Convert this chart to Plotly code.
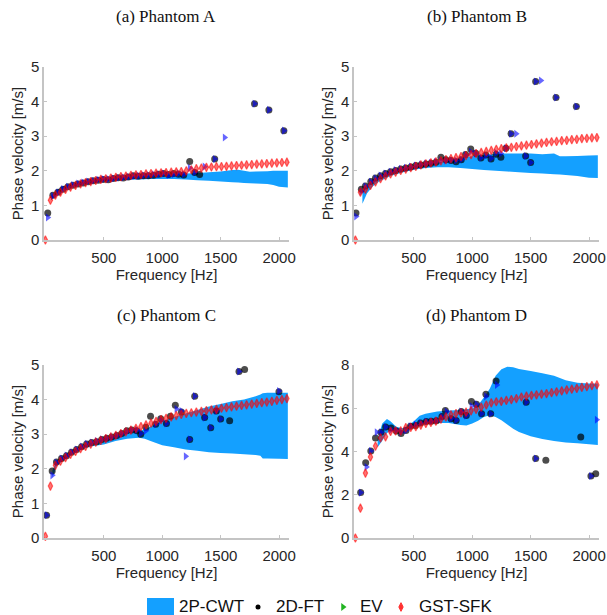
import plotly.graph_objects as go

# ---------------- data ----------------
titles = ["(a) Phantom A", "(b) Phantom B", "(c) Phantom C", "(d) Phantom D"]
legend_names = ["2P-CWT", "2D-FT", "EV", "GST-SFK"]

f_gst = [0, 43, 86, 129, 172, 215, 258, 301, 344, 388, 431, 474, 517, 560, 603, 646, 689, 732,
         775, 818, 861, 904, 947, 990, 1033, 1077, 1120, 1163, 1206, 1249, 1292, 1335, 1378, 1421,
         1464, 1507, 1550, 1593, 1636, 1679, 1722, 1766, 1809, 1852, 1895, 1938, 1981, 2024, 2067]

gst_A = [0.0, 1.15, 1.3, 1.38, 1.46, 1.53, 1.58, 1.62, 1.66, 1.69, 1.72, 1.75, 1.77, 1.79, 1.81, 1.83,
         1.85, 1.87, 1.88, 1.89, 1.91, 1.92, 1.93, 1.94, 1.95, 1.96, 1.97, 1.98, 2.0, 2.03, 2.06, 2.08,
         2.1, 2.11, 2.12, 2.12, 2.13, 2.14, 2.15, 2.16, 2.17, 2.18, 2.19, 2.2, 2.21, 2.22, 2.23, 2.24, 2.25]
gst_B = [0.0, 1.38, 1.47, 1.58, 1.68, 1.77, 1.85, 1.91, 1.96, 2.01, 2.05, 2.09, 2.13, 2.17, 2.2, 2.23,
         2.26, 2.29, 2.32, 2.35, 2.38, 2.41, 2.44, 2.47, 2.5, 2.53, 2.56, 2.59, 2.62, 2.64, 2.66, 2.68,
         2.7, 2.72, 2.74, 2.76, 2.78, 2.8, 2.82, 2.84, 2.85, 2.87, 2.88, 2.9, 2.91, 2.93, 2.94, 2.95, 2.96]
gst_C = [0.05, 1.5, 2.1, 2.22, 2.32, 2.42, 2.5, 2.58, 2.65, 2.71, 2.77, 2.82, 2.87, 2.92, 2.97, 3.02,
         3.07, 3.12, 3.17, 3.22, 3.27, 3.32, 3.37, 3.42, 3.46, 3.5, 3.54, 3.57, 3.6, 3.62, 3.64, 3.66,
         3.68, 3.7, 3.72, 3.75, 3.77, 3.79, 3.81, 3.83, 3.85, 3.87, 3.89, 3.91, 3.93, 3.95, 3.98, 4.0, 4.03]
gst_D = [0.0, 1.38, 3.0, 3.75, 4.25, 4.63, 4.68, 4.93, 4.95, 4.95, 5.1, 5.12, 5.15, 5.22, 5.3, 5.35,
         5.4, 5.5, 5.6, 5.7, 5.75, 5.78, 5.82, 5.88, 5.95, 6.05, 6.15, 6.25, 6.3, 6.32, 6.36, 6.4,
         6.45, 6.52, 6.56, 6.6, 6.62, 6.65, 6.68, 6.72, 6.76, 6.8, 6.85, 6.88, 6.92, 6.97, 7.0, 7.05, 7.08]

# 2P-CWT band (upper / lower)
f_cwt_A = [50, 100, 150, 200, 300, 400, 500, 600, 700, 800, 900, 1000, 1100, 1200, 1300, 1400,
           1500, 1600, 1650, 1700, 1750, 1800, 1900, 1950, 2000, 2075]
up_A = [1.28, 1.45, 1.55, 1.6, 1.67, 1.72, 1.76, 1.79, 1.82, 1.84, 1.86, 1.88, 1.9, 1.92, 1.94, 1.96,
        1.98, 2.02, 2.03, 2.0, 1.97, 1.98, 1.99, 2.0, 2.0, 2.0]
lo_A = [1.15, 1.35, 1.45, 1.52, 1.6, 1.65, 1.69, 1.72, 1.74, 1.75, 1.76, 1.76, 1.76, 1.75, 1.73, 1.71,
        1.69, 1.67, 1.66, 1.65, 1.64, 1.63, 1.62, 1.59, 1.54, 1.52]

f_cwt_B = [60, 100, 150, 200, 300, 400, 500, 600, 700, 800, 900, 1000, 1100, 1200, 1300, 1400,
           1500, 1600, 1700, 1750, 1800, 1900, 2000, 2075]
up_B = [1.4, 1.6, 1.75, 1.85, 1.97, 2.06, 2.13, 2.19, 2.24, 2.3, 2.36, 2.42, 2.46, 2.49, 2.5, 2.5,
        2.5, 2.48, 2.5, 2.42, 2.42, 2.43, 2.44, 2.45]
lo_B = [1.05, 1.35, 1.55, 1.68, 1.85, 1.95, 2.03, 2.08, 2.1, 2.1, 2.08, 2.05, 2.02, 2.0, 1.98, 1.96,
        1.94, 1.92, 1.9, 1.89, 1.88, 1.85, 1.8, 1.79]

f_cwt_C = [60, 100, 200, 300, 400, 500, 600, 700, 800, 850, 900, 1000, 1100, 1200, 1300, 1400,
           1500, 1600, 1700, 1800, 1840, 1860, 1900, 2000, 2075]
up_C = [1.95, 2.25, 2.48, 2.65, 2.76, 2.86, 2.96, 3.06, 3.12, 3.12, 3.22, 3.38, 3.5, 3.6, 3.7, 3.8,
        3.87, 3.95, 4.0, 4.1, 4.15, 4.18, 4.2, 4.2, 4.2]
lo_C = [1.75, 2.1, 2.35, 2.55, 2.65, 2.7, 2.8, 2.87, 2.9, 2.87, 2.8, 2.68, 2.62, 2.56, 2.52, 2.48,
        2.46, 2.44, 2.42, 2.4, 2.38, 2.3, 2.3, 2.29, 2.28]

f_cwt_D = [190, 230, 270, 300, 350, 400, 450, 500, 550, 600, 700, 800, 900, 950, 1000, 1050, 1100,
           1150, 1200, 1250, 1300, 1350, 1400, 1500, 1600, 1700, 1800, 1900, 2000, 2075]
up_D = [4.6, 5.3, 5.5, 5.4, 5.15, 5.08, 5.2, 5.4, 5.65, 5.75, 5.85, 5.9, 5.92, 5.95, 6.0, 6.15, 6.5,
        6.9, 7.5, 7.8, 7.92, 7.9, 7.82, 7.72, 7.62, 7.5, 7.3, 7.18, 7.15, 7.15]
lo_D = [4.2, 4.5, 4.85, 4.95, 4.98, 5.0, 5.08, 5.15, 5.2, 5.28, 5.32, 5.32, 5.22, 5.2, 5.3, 5.42, 5.6,
        5.68, 5.6, 5.45, 5.25, 5.05, 4.9, 4.7, 4.58, 4.48, 4.42, 4.38, 4.34, 4.3]

# 2D-FT
f_ft_A = [20, 64, 107, 150, 193, 236, 280, 323, 366, 409, 452, 495, 538, 581, 624, 667, 710, 753, 796,
          839, 882, 925, 968, 1011, 1054, 1097, 1140, 1184, 1235, 1278, 1320, 1449, 1790, 1913, 2041]
v_ft_A = [0.78, 1.29, 1.38, 1.47, 1.54, 1.58, 1.62, 1.65, 1.68, 1.71, 1.73, 1.75, 1.74, 1.78, 1.8, 1.79,
          1.82, 1.86, 1.84, 1.86, 1.86, 1.87, 1.9, 1.92, 1.89, 1.92, 1.9, 1.88, 2.27, 1.95, 1.89, 2.34,
          3.94, 3.76, 3.16]
f_ft_B = [5, 51, 86, 132, 172, 215, 258, 301, 344, 388, 431, 474, 517, 560, 603, 646, 689, 732, 775,
          819, 862, 906, 943, 987, 1030, 1074, 1117, 1161, 1204, 1245, 1288, 1332, 1457, 1500, 1543,
          1717, 1891]
v_ft_B = [0.78, 1.47, 1.56, 1.69, 1.79, 1.86, 1.92, 1.97, 2.01, 2.05, 2.08, 2.11, 2.15, 2.17, 2.2, 2.22,
          2.25, 2.39, 2.32, 2.3, 2.26, 2.32, 2.47, 2.63, 2.51, 2.37, 2.46, 2.34, 2.48, 2.39, 2.65, 3.07,
          2.43, 2.24, 4.58, 4.12, 3.86]
f_ft_C = [10, 58, 95, 138, 181, 224, 267, 310, 353, 396, 439, 482, 525, 568, 611, 654, 697, 740, 783,
          816, 860, 900, 944, 987, 1036, 1070, 1112, 1164, 1235, 1278, 1363, 1415, 1463, 1500, 1577,
          1657, 1705, 1999]
v_ft_C = [0.66, 1.94, 2.2, 2.3, 2.38, 2.48, 2.56, 2.64, 2.72, 2.76, 2.78, 2.85, 2.88, 2.92, 2.96, 3.02,
          3.1, 3.12, 3.1, 3.0, 3.2, 3.52, 3.29, 3.45, 3.31, 3.52, 3.84, 3.64, 2.85, 4.1, 3.48, 3.19,
          3.67, 3.44, 3.39, 4.81, 4.87, 4.23]
f_ft_D = [45, 88, 132, 172, 219, 259, 306, 350, 390, 433, 471, 515, 558, 607, 650, 694, 741, 770, 819,
          862, 906, 949, 993, 1036, 1080, 1117, 1158, 1204, 1462, 1543, 1630, 1929, 2016, 2057]
v_ft_D = [2.1, 3.48, 4.02, 4.63, 4.89, 5.13, 5.09, 4.95, 4.83, 4.97, 5.17, 5.2, 5.32, 5.39, 5.4, 5.42,
          5.62, 5.9, 5.52, 5.43, 5.85, 5.66, 6.31, 6.19, 5.75, 6.65, 5.75, 7.26, 6.28, 3.68, 3.6, 4.67,
          2.87, 2.97]

# EV
f_ev_A = [20, 64, 107, 150, 193, 236, 280, 323, 366, 409, 452, 495, 538, 581, 624, 667, 710, 753, 796,
          839, 882, 925, 968, 1011, 1054, 1097, 1140, 1184, 1235, 1278, 1362, 1449, 1534, 1790, 1913, 2041]
v_ev_A = [0.65, 1.27, 1.37, 1.47, 1.54, 1.59, 1.63, 1.66, 1.69, 1.71, 1.74, 1.76, 1.76, 1.78, 1.8, 1.81,
          1.83, 1.85, 1.86, 1.87, 1.88, 1.9, 1.9, 1.92, 1.88, 1.9, 1.93, 1.9, 2.08, 1.96, 2.12, 2.34,
          2.96, 3.94, 3.76, 3.16]
f_ev_B = [5, 51, 86, 132, 172, 215, 258, 301, 344, 388, 431, 474, 517, 560, 603, 646, 689, 732, 775,
          819, 862, 906, 943, 987, 1030, 1074, 1117, 1161, 1204, 1245, 1288, 1332, 1375, 1457, 1500,
          1543, 1587, 1717, 1891]
v_ev_B = [0.68, 1.4, 1.55, 1.68, 1.78, 1.86, 1.92, 1.97, 2.02, 2.06, 2.09, 2.12, 2.15, 2.18, 2.21, 2.23,
          2.26, 2.3, 2.3, 2.31, 2.3, 2.33, 2.45, 2.55, 2.5, 2.38, 2.44, 2.36, 2.52, 2.5, 2.65, 3.07,
          3.07, 2.43, 2.24, 4.58, 4.61, 4.12, 3.86]
f_ev_C = [10, 58, 95, 138, 181, 224, 267, 310, 353, 396, 439, 482, 525, 568, 611, 654, 697, 740, 783,
          816, 859, 944, 987, 1036, 1121, 1164, 1200, 1235, 1278, 1363, 1415, 1463, 1500, 1657, 1999]
v_ev_C = [0.66, 1.81, 2.18, 2.3, 2.38, 2.48, 2.56, 2.64, 2.72, 2.76, 2.8, 2.85, 2.88, 2.92, 2.96, 3.02,
          3.08, 3.12, 3.12, 3.02, 3.1, 3.29, 3.4, 3.31, 3.73, 3.67, 2.36, 2.85, 4.1, 3.48, 3.19, 3.67,
          3.44, 4.81, 4.25]
f_ev_D = [45, 94, 132, 181, 219, 259, 306, 350, 390, 433, 471, 515, 558, 607, 650, 694, 741, 780, 819,
          862, 906, 949, 993, 1036, 1080, 1117, 1158, 1210, 1462, 1543, 2016, 2065]
v_ev_D = [2.1, 3.28, 4.02, 4.89, 4.89, 5.13, 5.0, 4.97, 4.9, 4.97, 5.17, 5.25, 5.32, 5.39, 5.4, 5.42,
          5.6, 5.85, 5.52, 5.45, 5.85, 5.66, 6.1, 6.19, 5.75, 6.55, 5.75, 7.08, 6.28, 3.68, 2.87, 5.47]

x_ticks = [500, 1000, 1500, 2000]
y_ticks_abc = [0, 1, 2, 3, 4, 5]
y_ticks_d = [0, 2, 4, 6, 8]

# ---------------- figure ----------------
W, H = 607, 615
BAND = "#14A0FF"
FONT = "Liberation Sans, Arial, sans-serif"
SERIF = "Liberation Serif, Times New Roman, serif"
TXT = "#262626"
RED = "rgba(255,0,0,0.55)"

panels = [
    (f_cwt_A, up_A, lo_A, f_ft_A, v_ft_A, f_ev_A, v_ev_A, gst_A, y_ticks_abc, 5),
    (f_cwt_B, up_B, lo_B, f_ft_B, v_ft_B, f_ev_B, v_ev_B, gst_B, y_ticks_abc, 5),
    (f_cwt_C, up_C, lo_C, f_ft_C, v_ft_C, f_ev_C, v_ev_C, gst_C, y_ticks_abc, 5),
    (f_cwt_D, up_D, lo_D, f_ft_D, v_ft_D, f_ev_D, v_ev_D, gst_D, y_ticks_d, 8),
]

# plot-area pixel boxes (left, right, top, bottom)
boxes = [(44, 289, 67, 240), (354, 599, 67, 240), (44, 289, 365, 538), (354, 599, 365, 538)]

fig = go.Figure()
layout = {}
annotations = []
shapes = []
for i, (fc, up, lo, fft, vft, fev, vev, gst, yt, ymax) in enumerate(panels):
    n = i + 1
    xa = "x" if n == 1 else f"x{n}"
    ya = "y" if n == 1 else f"y{n}"
    fig.add_trace(go.Scatter(x=fc + fc[::-1], y=up + lo[::-1], fill="toself", fillcolor=BAND,
                             mode="none", hoverinfo="skip", xaxis=xa, yaxis=ya))
    fig.add_trace(go.Scatter(x=fft, y=vft, mode="markers", cliponaxis=False,
                             marker=dict(symbol="circle", size=7, color="rgba(0,0,0,0.7)"),
                             xaxis=xa, yaxis=ya))
    fig.add_trace(go.Scatter(x=fev, y=vev, mode="markers", cliponaxis=False,
                             marker=dict(symbol="triangle-right", size=7, color="rgba(0,0,255,0.6)"),
                             xaxis=xa, yaxis=ya))
    fig.add_trace(go.Scatter(x=f_gst, y=gst, mode="markers", cliponaxis=False,
                             marker=dict(symbol="diamond-tall", size=6.2, color=RED,
                                         line=dict(width=1.2, color=RED)),
                             xaxis=xa, yaxis=ya))
    l, r, t, b = boxes[i]
    axcommon = dict(showgrid=False, zeroline=False, showline=True, linecolor="#c4c4c4", linewidth=1.5,
                    ticks="inside", ticklen=3, tickcolor="#c4c4c4", automargin=False,
                    tickfont=dict(family=FONT, size=15, color=TXT))
    layout["xaxis" if n == 1 else f"xaxis{n}"] = dict(
        axcommon, domain=[l / W, r / W], range=[-12, 2085], tickvals=x_ticks, ticklabelstandoff=3,
        anchor=ya, title=dict(text="Frequency [Hz]", font=dict(family=FONT, size=15, color=TXT),
                              standoff=5))
    layout["yaxis" if n == 1 else f"yaxis{n}"] = dict(
        axcommon, domain=[1 - b / H, 1 - t / H], range=[0, ymax], tickvals=yt,
        anchor=xa, title=dict(text="Phase velocity [m/s]", font=dict(family=FONT, size=15, color=TXT),
                              standoff=4))
    annotations.append(dict(text=titles[i], x=(l + r) / 2 / W, y=1 - (t - 50) / H, xref="paper",
                            yref="paper", showarrow=False, xanchor="center", yanchor="middle",
                            font=dict(family=SERIF, size=17, color="#111111")))

# ---------- manual legend (bottom strip) ----------
LEG_Y = 606  # pixel centre line
shapes.append(dict(type="rect", xref="paper", yref="paper", x0=147 / W, x1=174 / W,
                   y0=1 - 615 / H, y1=1 - 598 / H, fillcolor=BAND, line=dict(width=0)))
leg_text_x = [177, 274, 358, 417]
for name, tx in zip(legend_names, leg_text_x):
    annotations.append(dict(text=name, x=tx / W, y=1 - LEG_Y / H, xref="paper", yref="paper",
                            showarrow=False, xanchor="left", yanchor="middle",
                            font=dict(family=FONT, size=17, color="#111111")))
# legend glyphs on a hidden helper axis measured in pixels
fig.add_trace(go.Scatter(x=[258], y=[H - 607], mode="markers", xaxis="x5", yaxis="y5",
                         marker=dict(symbol="circle", size=5, color="black"), cliponaxis=False))
fig.add_trace(go.Scatter(x=[343], y=[H - 607], mode="markers", xaxis="x5", yaxis="y5",
                         marker=dict(symbol="triangle-right", size=7, color="#22b422"), cliponaxis=False))
fig.add_trace(go.Scatter(x=[401], y=[H - 607], mode="markers", xaxis="x5", yaxis="y5",
                         marker=dict(symbol="diamond-tall", size=6.2, color="#ff3030",
                                     line=dict(width=1, color="#ff3030")), cliponaxis=False))
layout["xaxis5"] = dict(domain=[0, 1], range=[0, W], visible=False, fixedrange=True, anchor="y5")
layout["yaxis5"] = dict(domain=[0, 30 / H], range=[0, 30], visible=False, fixedrange=True, anchor="x5")

fig.update_layout(
    width=W, height=H, margin=dict(l=0, r=0, t=0, b=0, autoexpand=False),
    plot_bgcolor="white", paper_bgcolor="white", showlegend=False,
    font=dict(family=FONT, size=15, color=TXT),
    annotations=annotations, shapes=shapes,
    **layout,
)

fig.write_html("out.html", config={"displayModeBar": False},
               post_script="document.body.style.margin='0';document.body.style.overflow='hidden';")
